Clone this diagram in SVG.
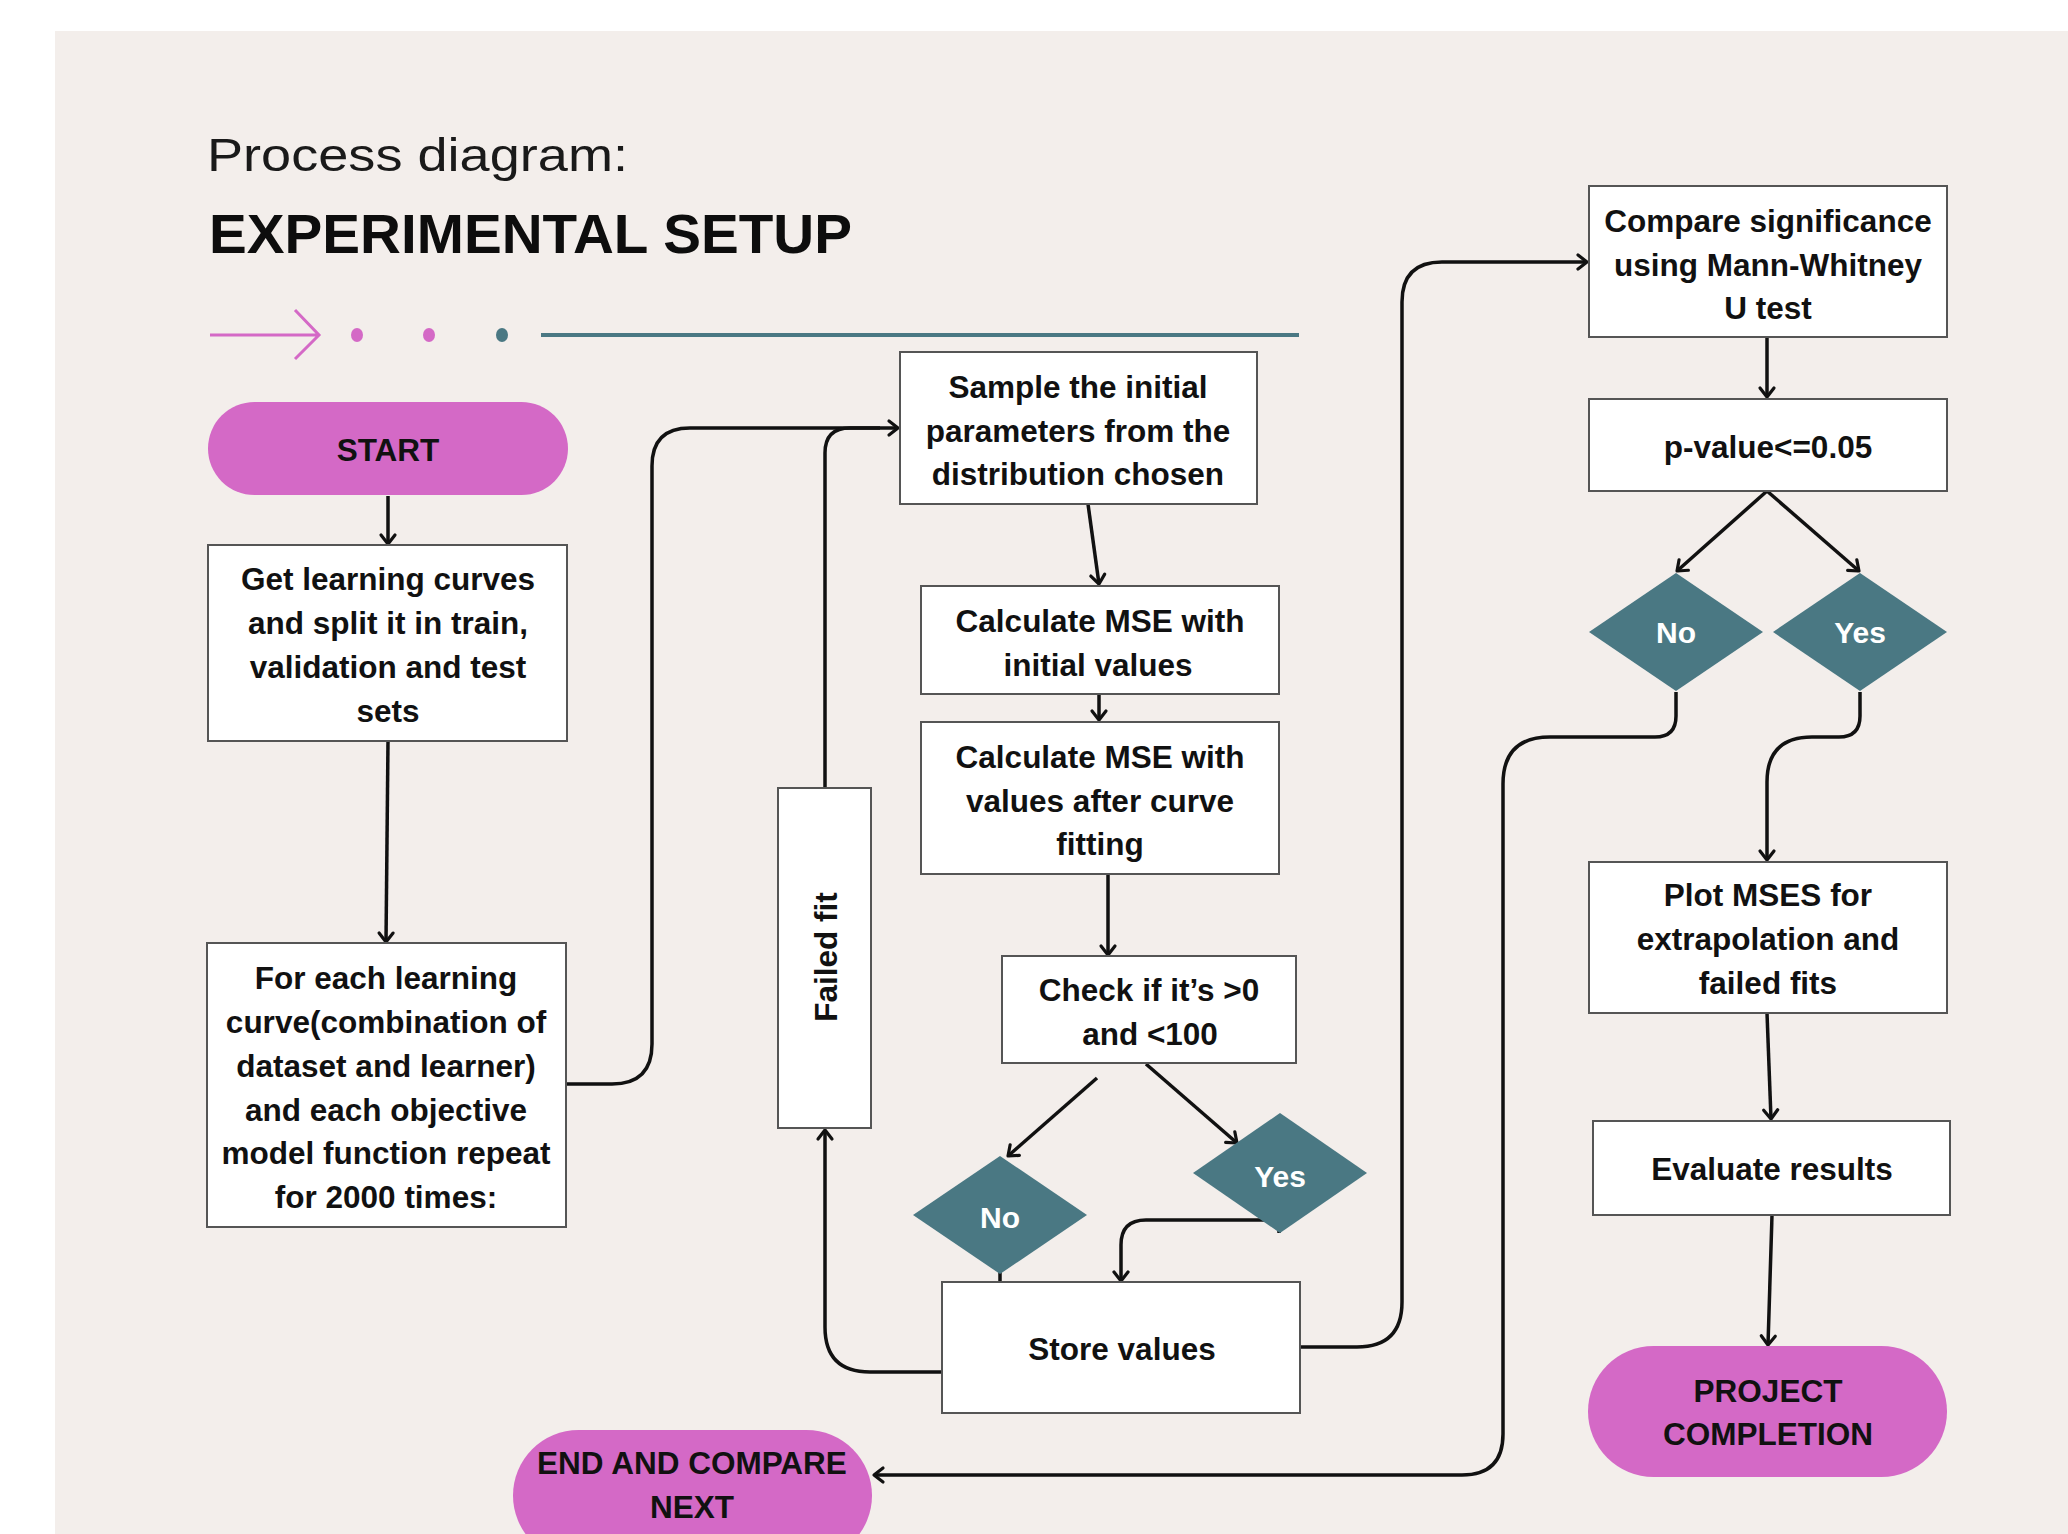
<svg xmlns="http://www.w3.org/2000/svg" width="2068" height="1534" viewBox="0 0 2068 1534">
<defs>
<style>
.bg{fill:#f3eeeb}
.box{fill:#ffffff;stroke:#555555;stroke-width:2}
.pill{fill:#d469c6}
.dia{fill:#4a7883}
.t{font-family:"Liberation Sans",Arial,sans-serif;font-weight:bold;font-size:31.5px;fill:#111111;text-anchor:middle;dominant-baseline:central}
.tw{font-family:"Liberation Sans",Arial,sans-serif;font-weight:bold;font-size:30px;fill:#ffffff;text-anchor:middle;dominant-baseline:central}
.c{fill:none;stroke:#111111;stroke-width:3.5;stroke-linejoin:round}
.ca{fill:none;stroke:#111111;stroke-width:3.5;marker-end:url(#ah)}
</style>
<marker id="ah" viewBox="-12 -9 14 18" refX="0" refY="0" markerWidth="14" markerHeight="18" markerUnits="userSpaceOnUse" orient="auto" overflow="visible">
<path d="M-9,-7 L0,0 L-9,7" fill="none" stroke="#111111" stroke-width="3.2" stroke-linecap="round" stroke-linejoin="round"/>
</marker>
</defs>
<rect x="0" y="0" width="2068" height="1534" fill="#ffffff"/>
<rect class="bg" x="55" y="31" width="2013" height="1503"/>

<g id="header">
<text x="207" y="171" font-family="'Liberation Sans',Arial,sans-serif" font-size="46" fill="#1a1a1a" textLength="421" lengthAdjust="spacingAndGlyphs">Process diagram:</text>
<text x="209" y="253" font-family="'Liberation Sans',Arial,sans-serif" font-weight="bold" font-size="55" fill="#0d0d0d" textLength="643" lengthAdjust="spacingAndGlyphs">EXPERIMENTAL SETUP</text>
<path d="M210,335 L318,335 M295,310 L319,335 L295,359" fill="none" stroke="#d469c6" stroke-width="3"/>
<ellipse cx="357" cy="335" rx="6" ry="7" fill="#d469c6"/>
<ellipse cx="429" cy="335" rx="6" ry="7" fill="#d469c6"/>
<ellipse cx="502" cy="335" rx="6" ry="7" fill="#4a7883"/>
<path d="M541,335 L1299,335" stroke="#4a7883" stroke-width="4"/>
</g>

<g id="connectors">
<path class="ca" d="M388,496 L388,544"/>
<path class="ca" d="M388,741 L386,942"/>
<path class="ca" d="M566,1084 L612,1084 Q652,1084 652,1044 L652,466 Q652,428 690,428 L898,428"/>
<path class="c" d="M825,787 L825,453 Q825,428 850,428 L880,428"/>
<path class="ca" d="M1088,504 L1099,584"/>
<path class="ca" d="M1099,694 L1099,720"/>
<path class="ca" d="M1108,874 L1108,955"/>
<path class="ca" d="M1097,1078 L1008,1156"/>
<path class="ca" d="M1146,1064 L1237,1143"/>
<path class="c" d="M1000,1272 L1000,1282"/>
<path class="ca" d="M1279,1233 L1279,1228 Q1279,1220 1271,1220 L1146,1220 Q1121,1220 1121,1245 L1121,1281"/>
<path class="ca" d="M942,1372 L870,1372 Q825,1372 825,1327 L825,1130"/>
<path class="ca" d="M1300,1347 L1357,1347 Q1402,1347 1402,1302 L1402,302 Q1402,262 1442,262 L1587,262"/>
<path class="ca" d="M1767,337 L1767,397"/>
<path class="ca" d="M1767,491 L1677,571"/>
<path class="ca" d="M1767,491 L1859,571"/>
<path class="ca" d="M1676,692 L1676,716 Q1676,737 1655,737 L1550,737 Q1503,737 1503,784 L1503,1434 Q1503,1475 1462,1475 L874,1475"/>
<path class="ca" d="M1860,692 L1860,716 Q1860,737 1839,737 L1812,737 Q1767,737 1767,782 L1767,860"/>
<path class="ca" d="M1767,1013 L1771,1119"/>
<path class="ca" d="M1772,1215 L1768,1345"/>
</g>

<g id="start">
<rect class="pill" x="208" y="402" width="360" height="93" rx="46.5"/>
<text class="t" x="388" y="450">START</text>
</g>

<g id="get-curves">
<rect class="box" x="208" y="545" width="359" height="196"/>
<text class="t" x="388" y="579">Get learning curves</text>
<text class="t" x="388" y="623">and split it in train,</text>
<text class="t" x="388" y="667">validation and test</text>
<text class="t" x="388" y="711">sets</text>
</g>

<g id="for-each">
<rect class="box" x="207" y="943" width="359" height="284"/>
<text class="t" x="386" y="978">For each learning</text>
<text class="t" x="386" y="1022">curve(combination of</text>
<text class="t" x="386" y="1066">dataset and learner)</text>
<text class="t" x="386" y="1110">and each objective</text>
<text class="t" x="386" y="1153">model function repeat</text>
<text class="t" x="386" y="1197">for 2000 times:</text>
</g>

<g id="failed-fit">
<rect class="box" x="778" y="788" width="93" height="340"/>
<text class="t" x="0" y="0" transform="translate(826,957) rotate(-90)">Failed fit</text>
</g>

<g id="sample">
<rect class="box" x="900" y="352" width="357" height="152"/>
<text class="t" x="1078" y="387">Sample the initial</text>
<text class="t" x="1078" y="431">parameters from the</text>
<text class="t" x="1078" y="474">distribution chosen</text>
</g>

<g id="calc-initial">
<rect class="box" x="921" y="586" width="358" height="108"/>
<text class="t" x="1100" y="621">Calculate MSE with</text>
<text class="t" x="1098" y="665">initial values</text>
</g>

<g id="calc-after">
<rect class="box" x="921" y="722" width="358" height="152"/>
<text class="t" x="1100" y="757">Calculate MSE with</text>
<text class="t" x="1100" y="801">values after curve</text>
<text class="t" x="1100" y="844">fitting</text>
</g>

<g id="check">
<rect class="box" x="1002" y="956" width="294" height="107"/>
<text class="t" x="1149" y="990">Check if it’s &gt;0</text>
<text class="t" x="1150" y="1034">and &lt;100</text>
</g>

<g id="no-mid">
<polygon class="dia" points="913,1215 1000,1156 1087,1215 1000,1274"/>
<text class="tw" x="1000" y="1217">No</text>
</g>

<g id="yes-mid">
<polygon class="dia" points="1193,1173 1280,1113 1367,1173 1280,1233"/>
<text class="tw" x="1280" y="1176">Yes</text>
</g>

<g id="store">
<rect class="box" x="942" y="1282" width="358" height="131"/>
<text class="t" x="1122" y="1349">Store values</text>
</g>

<g id="end-compare">
<rect class="pill" x="513" y="1430" width="359" height="131" rx="65.5"/>
<text class="t" x="692" y="1463">END AND COMPARE</text>
<text class="t" x="692" y="1507">NEXT</text>
</g>

<g id="compare">
<rect class="box" x="1589" y="186" width="358" height="151"/>
<text class="t" x="1768" y="221">Compare significance</text>
<text class="t" x="1768" y="265">using Mann-Whitney</text>
<text class="t" x="1768" y="308">U test</text>
</g>

<g id="p-value">
<rect class="box" x="1589" y="399" width="358" height="92"/>
<text class="t" x="1768" y="447">p-value&lt;=0.05</text>
</g>

<g id="no-right">
<polygon class="dia" points="1589,632 1676,573 1763,632 1676,691"/>
<text class="tw" x="1676" y="632">No</text>
</g>

<g id="yes-right">
<polygon class="dia" points="1773,632 1860,573 1947,632 1860,691"/>
<text class="tw" x="1860" y="632">Yes</text>
</g>

<g id="plot">
<rect class="box" x="1589" y="862" width="358" height="151"/>
<text class="t" x="1768" y="895">Plot MSES for</text>
<text class="t" x="1768" y="939">extrapolation and</text>
<text class="t" x="1768" y="983">failed fits</text>
</g>

<g id="evaluate">
<rect class="box" x="1593" y="1121" width="357" height="94"/>
<text class="t" x="1772" y="1169">Evaluate results</text>
</g>

<g id="project-completion">
<rect class="pill" x="1588" y="1346" width="359" height="131" rx="65.5"/>
<text class="t" x="1768" y="1391">PROJECT</text>
<text class="t" x="1768" y="1434">COMPLETION</text>
</g>
</svg>
